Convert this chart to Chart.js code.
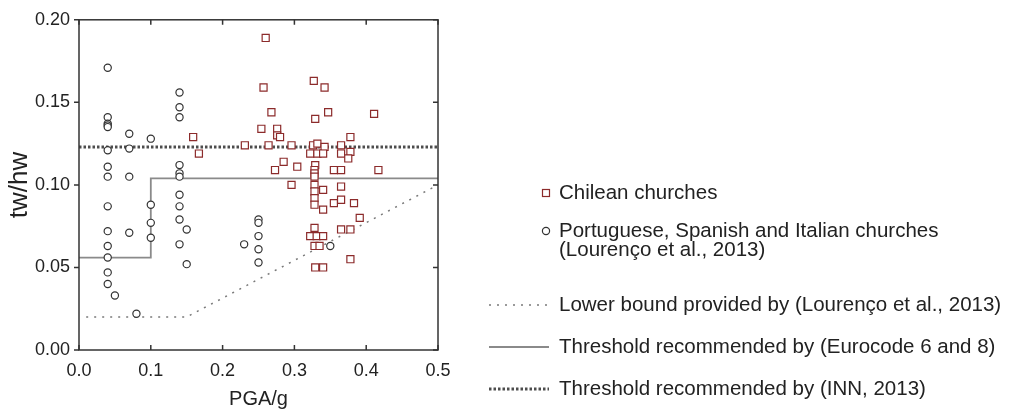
<!DOCTYPE html>
<html>
<head>
<meta charset="utf-8">
<script src="https://cdn.jsdelivr.net/npm/chart.js@4.4.0/dist/chart.umd.min.js"></script>
<style>
    html, body { margin: 0; padding: 0; background: #fff; }
    #wrap { width: 1009px; height: 414px; }
</style>
</head>
<body>
<div id="wrap"><canvas id="wallChart" width="1009" height="414"></canvas></div>
<script>
// Chilean churches (PGA/g, tw/hw)
const chileX = [0.159, 0.167, 0.231, 0.254, 0.260, 0.257, 0.264, 0.268, 0.273, 0.276,
    0.276, 0.280, 0.285, 0.296, 0.296, 0.304, 0.327, 0.329, 0.326, 0.332,
    0.342, 0.365, 0.378, 0.342, 0.347, 0.411, 0.322, 0.332, 0.340, 0.365,
    0.378, 0.375, 0.329, 0.328, 0.328, 0.328, 0.355, 0.365, 0.417, 0.328,
    0.328, 0.340, 0.365, 0.328, 0.328, 0.340, 0.355, 0.365, 0.383, 0.391,
    0.328, 0.322, 0.331, 0.340, 0.365, 0.378, 0.328, 0.335, 0.378, 0.329,
    0.340];
const chileY = [0.129, 0.119, 0.124, 0.134, 0.189, 0.159, 0.124, 0.144, 0.109, 0.134,
    0.130, 0.129, 0.114, 0.124, 0.100, 0.111, 0.163, 0.140, 0.124, 0.125,
    0.123, 0.124, 0.129, 0.159, 0.144, 0.143, 0.119, 0.119, 0.119, 0.119,
    0.120, 0.116, 0.112, 0.109, 0.107, 0.105, 0.109, 0.109, 0.109, 0.100,
    0.096, 0.097, 0.099, 0.092, 0.088, 0.085, 0.089, 0.091, 0.089, 0.080,
    0.074, 0.069, 0.069, 0.069, 0.073, 0.073, 0.063, 0.063, 0.055, 0.050,
    0.050];

// Portuguese, Spanish and Italian churches
const europeX = [0.04, 0.04, 0.04, 0.04, 0.04, 0.04, 0.04, 0.04, 0.04, 0.04,
    0.04, 0.04, 0.04, 0.04, 0.05, 0.08, 0.07, 0.07, 0.07, 0.07,
    0.10, 0.10, 0.10, 0.10, 0.14, 0.14, 0.14, 0.14, 0.14, 0.14,
    0.14, 0.14, 0.14, 0.14, 0.15, 0.15, 0.23, 0.25, 0.25, 0.25,
    0.25, 0.25, 0.35];
const europeY = [0.171, 0.141, 0.137, 0.136, 0.135, 0.121, 0.111, 0.105, 0.087, 0.072,
    0.063, 0.056, 0.047, 0.040, 0.033, 0.022, 0.131, 0.122, 0.105, 0.071,
    0.128, 0.088, 0.077, 0.068, 0.156, 0.147, 0.141, 0.112, 0.107, 0.105,
    0.094, 0.087, 0.079, 0.064, 0.073, 0.052, 0.064, 0.079, 0.077, 0.069,
    0.061, 0.053, 0.063];

// limit lines
const lowerBoundX = [0.01, 0.15, 0.5];
const lowerBoundY = [0.02, 0.02, 0.10];
const eurocodeX = [0, 0.1, 0.1, 0.5];
const eurocodeY = [0.056, 0.056, 0.104, 0.104];
const innX = [0, 0.5];
const innY = [0.123, 0.123];

const xTicks = [0, 0.1, 0.2, 0.3, 0.4, 0.5];
const yTicks = [0, 0.05, 0.10, 0.15, 0.20];

const legendLabels = [
    'Chilean churches',
    'Portuguese, Spanish and Italian churches',
    '(Lourenço et al., 2013)',
    'Lower bound provided by (Lourenço et al., 2013)',
    'Threshold recommended by (Eurocode 6 and 8)',
    'Threshold recommended by (INN, 2013)'
];

const FONT = '"Liberation Sans", Arial, sans-serif';
const RED = '#8c2b2b';
const DARK = '#333333';

function toPoints(xs, ys) {
    return xs.map((x, i) => ({ x: x, y: ys[i] }));
}

const lineStyles = {
    lower: { color: '#7a7a7a', width: 1.5, dash: [2, 6] },
    euro: { color: '#8a8a8a', width: 1.8, dash: [] },
    inn: { color: '#4d4d4d', width: 3, dash: [2.5, 2] }
};

// frame, inward ticks and the legend on the right
const framePlugin = {
    id: 'frame',
    afterDraw(chart) {
        const ctx = chart.ctx;
        const a = chart.chartArea;
        const xs = chart.scales.x;
        const ys = chart.scales.y;
        ctx.save();
        ctx.strokeStyle = DARK;
        ctx.lineWidth = 1.5;
        ctx.strokeRect(a.left, a.top, a.right - a.left, a.bottom - a.top);
        ctx.beginPath();
        xTicks.forEach(v => {
            const px = xs.getPixelForValue(v);
            ctx.moveTo(px, a.bottom); ctx.lineTo(px, a.bottom - 5);
            ctx.moveTo(px, a.top); ctx.lineTo(px, a.top + 5);
        });
        yTicks.forEach(v => {
            const py = ys.getPixelForValue(v);
            ctx.moveTo(a.left - 5, py); ctx.lineTo(a.left, py);
            ctx.moveTo(a.right, py); ctx.lineTo(a.right - 5, py);
        });
        ctx.stroke();

        // legend
        const textX = 559;
        const rows = [193, 231, 250, 305, 347, 389];
        ctx.font = '20.5px ' + FONT;
        ctx.fillStyle = '#222';
        ctx.textBaseline = 'middle';
        ctx.textAlign = 'left';
        legendLabels.forEach((t, i) => ctx.fillText(t, textX, rows[i]));

        ctx.lineWidth = 1.2;
        ctx.strokeStyle = RED;
        ctx.strokeRect(546 - 3.5, rows[0] - 3.5, 7, 7);
        ctx.strokeStyle = DARK;
        ctx.beginPath();
        ctx.arc(546, rows[1], 3.6, 0, Math.PI * 2);
        ctx.stroke();

        [['lower', rows[3]], ['euro', rows[4]], ['inn', rows[5]]].forEach(([k, yy]) => {
            const s = lineStyles[k];
            ctx.strokeStyle = s.color;
            ctx.lineWidth = s.width;
            ctx.setLineDash(s.dash);
            ctx.beginPath();
            ctx.moveTo(489, yy);
            ctx.lineTo(549, yy);
            ctx.stroke();
        });
        ctx.restore();
    }
};

function lineDataset(xs, ys, style) {
    return {
        data: toPoints(xs, ys),
        showLine: true,
        pointRadius: 0,
        borderColor: style.color,
        borderWidth: style.width,
        borderDash: style.dash,
        fill: false,
        tension: 0
    };
}

new Chart(document.getElementById('wallChart'), {
    type: 'scatter',
    data: {
        datasets: [
            {
                label: 'Chilean churches',
                data: toPoints(chileX, chileY),
                pointStyle: 'rect',
                pointRadius: 5,
                borderColor: RED,
                backgroundColor: '#ffffff',
                borderWidth: 1.2
            },
            {
                label: 'Portuguese, Spanish and Italian churches',
                data: toPoints(europeX, europeY),
                pointStyle: 'circle',
                pointRadius: 3.6,
                borderColor: DARK,
                backgroundColor: '#ffffff',
                borderWidth: 1.2
            },
            lineDataset(innX, innY, lineStyles.inn),
            lineDataset(eurocodeX, eurocodeY, lineStyles.euro),
            lineDataset(lowerBoundX, lowerBoundY, lineStyles.lower)
        ]
    },
    options: {
        responsive: false,
        animation: false,
        layout: { padding: { left: 0, right: 571, top: 16, bottom: 0 } },
        plugins: {
            legend: { display: false },
            tooltip: { enabled: false }
        },
        scales: {
            x: {
                type: 'linear',
                min: 0,
                max: 0.5,
                afterBuildTicks: s => { s.ticks = xTicks.map(v => ({ value: v })); },
                afterFit: s => { s.height = 64; },
                grid: { display: false, drawTicks: false },
                border: { display: false },
                ticks: {
                    color: '#222',
                    font: { family: FONT, size: 18 },
                    padding: 10,
                    maxRotation: 0,
                    callback: v => v.toFixed(1)
                },
                title: {
                    display: true,
                    text: 'PGA/g',
                    color: '#222',
                    font: { family: FONT, size: 20 },
                    padding: { top: 0, bottom: 3 }
                }
            },
            y: {
                type: 'linear',
                min: 0,
                max: 0.2,
                afterBuildTicks: s => { s.ticks = yTicks.map(v => ({ value: v })); },
                afterFit: s => { s.width = 79; },
                grid: { display: false, drawTicks: false },
                border: { display: false },
                ticks: {
                    color: '#222',
                    font: { family: FONT, size: 18 },
                    padding: 9,
                    callback: v => v.toFixed(2)
                },
                title: {
                    display: true,
                    text: 'tw/hw',
                    color: '#222',
                    font: { family: FONT, size: 26 },
                    padding: { top: 4, bottom: 0 }
                }
            }
        }
    },
    plugins: [framePlugin]
});
</script>
</body>
</html>
